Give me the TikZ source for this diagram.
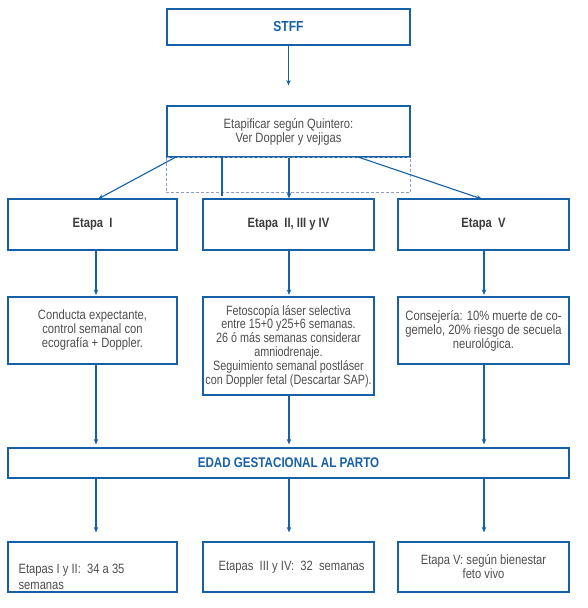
\documentclass[tikz,border=0pt]{standalone}
\usepackage{fontspec}
\setmainfont{Liberation Sans}[FakeStretch=0.83]
\newfontfamily\narrowfont{Liberation Sans}[FakeStretch=0.80]
\usetikzlibrary{arrows.meta,calc}
\definecolor{bblue}{RGB}{22,96,168}
\definecolor{dgray}{RGB}{140,160,198}
\definecolor{tgray}{RGB}{78,78,78}
\definecolor{lgray}{RGB}{60,60,60}
\begin{document}
\begin{tikzpicture}[x=1pt,y=-1pt,
  box/.style={draw=bblue,line width=1.2pt,inner sep=0pt,align=center,text=tgray,
    font=\fontsize{13.5pt}{14pt}\selectfont},
  titlebox/.style={box,text=bblue,font=\bfseries\fontsize{14.5pt}{16pt}\selectfont},
  stagebox/.style={box,text=lgray,font=\bfseries\fontsize{13.5pt}{14pt}\selectfont},
  conn/.style={draw=bblue,line width=1.1pt},
  arr/.style={conn,-{Stealth[length=5.5pt,width=4.5pt]}},
  dashbox/.style={draw=dgray,line width=0.9pt,dash pattern=on 3pt off 2pt}
]
\useasboundingbox (0,0) rectangle (588,608);

% top
\node[titlebox,minimum width=243pt,minimum height=36pt] (stff) at (288.5,27) {STFF};
\node[box,minimum width=243pt,minimum height=51pt] (quin) at (288.5,131.5)
  {Etapificar según Quintero:\\ Ver Doppler y vejigas};
\draw[dashbox] (quin.south west) rectangle ($(quin.south east)+(0,35)$);

% stages
\node[stagebox,minimum width=169pt,minimum height=51pt] (e1) at (92.5,224.5) {Etapa\ \ I};
\node[stagebox,minimum width=171pt,minimum height=51pt] (e2) at (288.5,224.5) {Etapa\ \ II, III y IV};
\node[stagebox,minimum width=171pt,minimum height=51pt] (e5) at (483.5,224.5) {Etapa\ \ V};

% management
\node[box,minimum width=169pt,minimum height=67pt] (c1) at (92.5,330.5)
  {Conducta expectante,\\ control semanal con\\ ecografía + Doppler.};
\node[box,font=\narrowfont\fontsize{13.5pt}{13.8pt}\selectfont,minimum width=171pt,minimum height=98pt] (c2) at (288.5,346)
  {Fetoscopía láser selectiva\\ entre 15+0 y25+6 semanas.\\ 26 ó más semanas considerar\\ amniodrenaje.\\ Seguimiento semanal postláser\\ con Doppler fetal (Descartar SAP).};
\node[box,minimum width=171pt,minimum height=67pt] (c5) at (483.5,330.5)
  {Consejería: 10\% muerte de co-\\ gemelo, 20\% riesgo de secuela\\ neurológica.};

% gestational age
\node[titlebox,font=\bfseries\fontsize{14pt}{15pt}\selectfont,minimum width=561pt,minimum height=30pt] (edad) at (288.5,463) {EDAD GESTACIONAL AL PARTO};

% bottom
\node[box,minimum width=169pt,minimum height=50pt] (b1) at (92.5,567) {};
\node[box,draw=none,align=left,anchor=west,font=\fontsize{13.5pt}{16pt}\selectfont] (b1t) at (18,577) {Etapas I y II:\ \ 34 a 35\\ semanas};
\node[box,minimum width=171pt,minimum height=50pt] (b2) at (288.5,567) {\ \ Etapas\ \ III y IV:\ \ 32\ \ semanas};
\node[box,minimum width=171pt,minimum height=50pt] (b5) at (483.5,567) {Etapa V: según bienestar\\ feto vivo};

% helper coordinates
\coordinate (xa) at (96,0);
\coordinate (xb) at (289,0);
\coordinate (xc) at (484,0);
\coordinate (ql) at (176,157);
\coordinate (qr) at (358,157);
\coordinate (qv) at (222,157);
\coordinate (e1t) at (98,199);
\coordinate (e5t) at (482,199);

% connectors
\draw[arr,shorten >=20pt] (stff) -- (quin);
\draw[arr] (ql) -- (e1t);
\draw[conn] (qv) -- ($(qv |- e2.north)+(0,-2)$);
\draw[arr] (quin.south -| xb) -- (e2.north -| xb);
\draw[arr] (qr) -- (e5t);

\draw[arr,shorten >=1.5pt] (e1.south -| xa) -- (c1.north -| xa);
\draw[arr,shorten >=1.5pt] (e2.south -| xb) -- (c2.north -| xb);
\draw[arr,shorten >=1.5pt] (e5.south -| xc) -- (c5.north -| xc);

\draw[arr,shorten >=3pt] (c1.south -| xa) -- (edad.north -| xa);
\draw[arr,shorten >=3pt] (c2.south -| xb) -- (edad.north -| xb);
\draw[arr,shorten >=3pt] (c5.south -| xc) -- (edad.north -| xc);

\draw[arr,shorten >=9pt] (edad.south -| xa) -- (b1.north -| xa);
\draw[arr,shorten >=9pt] (edad.south -| xb) -- (b2.north -| xb);
\draw[arr,shorten >=9pt] (edad.south -| xc) -- (b5.north -| xc);
\end{tikzpicture}
\end{document}
